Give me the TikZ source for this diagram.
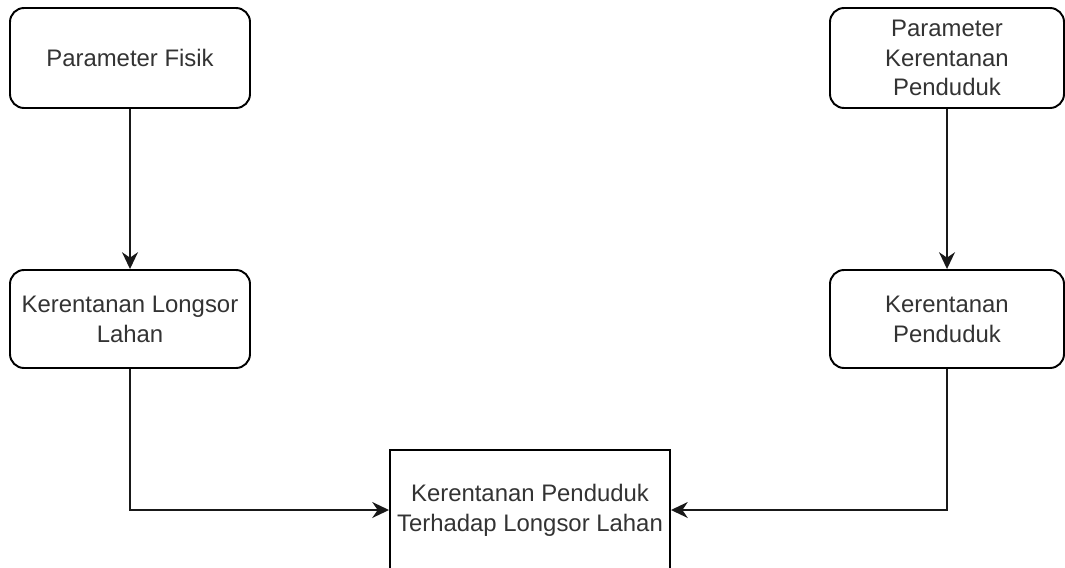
\documentclass[tikz,border=0pt]{standalone}
\usepackage{fontspec}
\setmainfont{Liberation Sans}
\usetikzlibrary{arrows.meta,positioning}
\definecolor{tx}{RGB}{51,51,51}
\tikzset{
    rblk/.style={rectangle,draw=black,line width=1.1pt,rounded corners=#1,align=center,text=tx,font=\fontsize{13.6}{17}\selectfont,inner sep=2pt},
    rblk/.default=8pt,
    conn/.style={-{Stealth[length=9.5pt,width=9pt,inset=3pt]},line width=1.1pt,black!90},
}
\begin{document}
\begin{tikzpicture}
\useasboundingbox (0,0) rectangle (21.3,-11.34);
\node[rblk,minimum width=4.8cm,minimum height=2cm] (pf) at (2.6,-1.16) {Parameter Fisik};
\node[rblk,minimum width=4.68cm,minimum height=2cm] (pkp) at (18.94,-1.16) {Parameter\\Kerentanan\\Penduduk};
\node[rblk,minimum width=4.8cm,minimum height=1.96cm] (kll) at (2.6,-6.38) {Kerentanan Longsor\\Lahan};
\node[rblk,minimum width=4.68cm,minimum height=1.96cm] (kp) at (18.94,-6.38) {Kerentanan\\Penduduk};
\node[rblk=0pt,minimum width=5.6cm,minimum height=2.4cm] (kpl) at (10.6,-10.2) {Kerentanan Penduduk\\Terhadap Longsor Lahan};
\draw[conn] (pf) -- (kll); \draw[conn] (pkp) -- (kp);
\draw[conn] (kll.south) |- (kpl.west); \draw[conn] (kp.south) |- (kpl.east);
\end{tikzpicture}
\end{document}
